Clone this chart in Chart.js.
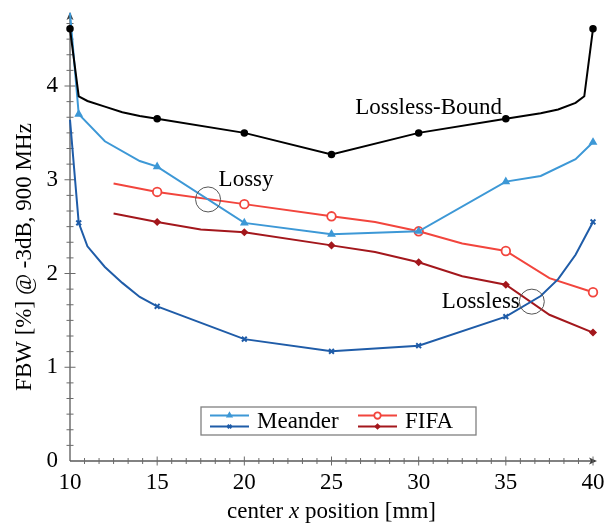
<!DOCTYPE html>
<html>
<head>
<meta charset="utf-8">
<script src="https://cdn.jsdelivr.net/npm/chart.js@4/dist/chart.umd.min.js"></script>
<style>
  html, body { margin: 0; padding: 0; background: #fff; }
  canvas { display: block; }
</style>
</head>
<body>
<canvas id="chart" width="613" height="525" style="width:613px;height:525px"></canvas>
<script>
// ---- data (center x position in mm, FBW in %) ----
const boundX = [10, 10.5, 11, 12, 13, 14, 15, 20, 25, 30, 35, 36, 37, 38, 39, 39.5, 40];
const boundY = [4.61, 3.89, 3.84, 3.78, 3.72, 3.68, 3.65, 3.50, 3.27, 3.50, 3.65, 3.68, 3.71, 3.75, 3.82, 3.89, 4.61];

const meanderLossyX = [10, 10.5, 12, 14, 15, 20, 25, 30, 35, 37, 39, 40];
const meanderLossyY = [4.78, 3.70, 3.41, 3.20, 3.14, 2.54, 2.42, 2.45, 2.98, 3.04, 3.22, 3.40];

const meanderLosslessX = [10, 10.5, 11, 12, 13, 14, 15, 20, 25, 30, 35, 37, 38, 39, 40];
const meanderLosslessY = [3.64, 2.54, 2.29, 2.07, 1.90, 1.75, 1.65, 1.30, 1.17, 1.23, 1.54, 1.76, 1.94, 2.20, 2.55];

const fifaLossyX = [12.5, 15, 20, 25, 27.5, 30, 32.5, 35, 37.5, 40];
const fifaLossyY = [2.96, 2.87, 2.74, 2.61, 2.55, 2.45, 2.32, 2.24, 1.95, 1.80];

const fifaLosslessX = [12.5, 15, 17.5, 20, 25, 27.5, 30, 32.5, 35, 37.5, 40];
const fifaLosslessY = [2.64, 2.55, 2.47, 2.44, 2.30, 2.23, 2.12, 1.97, 1.88, 1.56, 1.37];

// marker positions (x values carrying a marker)
const meanderMarkX = [10.5, 15, 20, 25, 30, 35, 40];
const stdMarkX = [10, 15, 20, 25, 30, 35, 40];

// axis ticks
const xTicks = [10, 15, 20, 25, 30, 35, 40];
const yTicks = [0, 1, 2, 3, 4];
const xLabel = ['center ', 'x', ' position [mm]'];
const yLabel = 'FBW [%] @ -3dB, 900 MHz';
const legendNames = ['Meander', 'FIFA'];

const X_MIN = 10, X_MAX = 40, Y_MIN = 0, Y_MAX = 4.8;
const FONT = '"Liberation Serif", "Times New Roman", serif';

const COLORS = {
  bound: '#000000',
  meanderLossy: '#3d98d6',
  meanderLossless: '#1f5ca8',
  fifaLossy: '#f2453d',
  fifaLossless: '#a3171c'
};

function pts(xs, ys) { return xs.map((x, i) => ({ x: x, y: ys[i] })); }
function radii(xs, marks, r) { return xs.map(x => marks.includes(x) ? r : 0); }

function series(label, xs, ys, color, style, r, marks, extra) {
  return Object.assign({
    label: label,
    data: pts(xs, ys),
    borderColor: color,
    backgroundColor: color,
    pointBorderColor: color,
    pointBackgroundColor: color,
    borderWidth: 2,
    pointStyle: style,
    pointRadius: radii(xs, marks, r),
    pointHoverRadius: 0,
    pointBorderWidth: 1.5,
    tension: 0,
    clip: false
  }, extra || {});
}

const datasets = [
  series('Lossless-Bound', boundX, boundY, COLORS.bound, 'circle', 3, stdMarkX),
  series('Meander lossy', meanderLossyX, meanderLossyY, COLORS.meanderLossy, 'triangle', 3.6, meanderMarkX),
  series('Meander lossless', meanderLosslessX, meanderLosslessY, COLORS.meanderLossless, 'crossRot', 3.4, meanderMarkX, { pointBorderWidth: 2 }),
  series('FIFA lossy', fifaLossyX, fifaLossyY, COLORS.fifaLossy, 'circle', 4.3, stdMarkX, { pointBackgroundColor: '#ffffff', pointBorderWidth: 1.8 }),
  series('FIFA lossless', fifaLosslessX, fifaLosslessY, COLORS.fifaLossless, 'rectRot', 3, stdMarkX)
];

// text notes and circled crossings, in data coordinates
const notes = [
  { text: 'Lossless-Bound', x: 30.57, y: 3.77, align: 'center' },
  { text: 'Lossy', x: 20.1, y: 3.0, align: 'center' },
  { text: 'Lossless', x: 35.8, y: 1.70, align: 'right' }
];
const rings = [
  { x: 17.92, y: 2.79, r: 12.5 },
  { x: 36.49, y: 1.70, r: 12.5 }
];

function drawMarker(ctx, ds, x, y) {
  const opts = {
    pointStyle: ds.pointStyle,
    radius: ds.pointRadius.find(r => r > 0) || 3,
    rotation: 0,
    borderWidth: ds.pointBorderWidth
  };
  ctx.save();
  ctx.fillStyle = ds.pointBackgroundColor;
  ctx.strokeStyle = ds.pointBorderColor;
  ctx.lineWidth = ds.pointBorderWidth;
  Chart.helpers.drawPoint(ctx, opts, x, y);
  ctx.restore();
}

// pgfplots-style axis lines with arrow heads, major and minor ticks
const arrowAxes = {
  id: 'arrowAxes',
  beforeDatasetsDraw(chart) {
    const { ctx, scales: { x, y } } = chart;
    const ox = x.getPixelForValue(X_MIN), oy = y.getPixelForValue(Y_MIN);
    const xEnd = x.getPixelForValue(X_MAX) + 4;
    const yEnd = y.getPixelForValue(Y_MAX) + 1;
    ctx.save();
    ctx.strokeStyle = '#5a5a5a';
    ctx.fillStyle = '#3a3a3a';
    ctx.lineWidth = 1.3;
    ctx.beginPath();
    ctx.moveTo(ox, oy); ctx.lineTo(xEnd - 2, oy);
    ctx.moveTo(ox, oy); ctx.lineTo(ox, yEnd + 2);
    ctx.stroke();
    // arrow heads
    ctx.beginPath();
    ctx.moveTo(xEnd, oy); ctx.lineTo(xEnd - 8, oy - 3.5); ctx.lineTo(xEnd - 6, oy); ctx.lineTo(xEnd - 8, oy + 3.5); ctx.closePath();
    ctx.fill();
    ctx.beginPath();
    ctx.moveTo(ox, yEnd); ctx.lineTo(ox - 3.5, yEnd + 8); ctx.lineTo(ox, yEnd + 6); ctx.lineTo(ox + 3.5, yEnd + 8); ctx.closePath();
    ctx.fill();

    ctx.lineWidth = 1;
    ctx.strokeStyle = '#6a6a6a';
    const tick = (px, py, len, horiz) => {
      ctx.beginPath();
      if (horiz) { ctx.moveTo(px - len, py); ctx.lineTo(px + len, py); }
      else { ctx.moveTo(px, py - len); ctx.lineTo(px, py + len); }
      ctx.stroke();
    };
    const xStep = xTicks[1] - xTicks[0];
    xTicks.forEach((v, i) => {
      if (i > 0) tick(x.getPixelForValue(v), oy, 4.5, false);
      if (i < xTicks.length - 1) {
        for (let k = 1; k < 6; k++) tick(x.getPixelForValue(v + k * xStep / 6), oy, 3, false);
      }
    });
    const yStep = yTicks[1] - yTicks[0];
    yTicks.forEach((v, i) => {
      if (i > 0) tick(ox, y.getPixelForValue(v), 5.5, true);
      for (let k = 1; k < 6; k++) {
        const mv = v + k * yStep / 6;
        if (mv < Y_MAX - 0.1) tick(ox, y.getPixelForValue(mv), 3.5, true);
      }
    });
    ctx.restore();
  },
  afterDatasetsDraw(chart) {
    const { ctx, scales: { x, y } } = chart;
    ctx.save();
    // circled crossings
    ctx.strokeStyle = '#555555';
    ctx.lineWidth = 1;
    rings.forEach(c => {
      ctx.beginPath();
      ctx.arc(x.getPixelForValue(c.x), y.getPixelForValue(c.y), c.r, 0, Math.PI * 2);
      ctx.stroke();
    });
    // labels
    ctx.fillStyle = '#000';
    ctx.font = '23px ' + FONT;
    ctx.textBaseline = 'middle';
    notes.forEach(n => {
      ctx.textAlign = n.align;
      ctx.fillText(n.text, x.getPixelForValue(n.x), y.getPixelForValue(n.y));
    });
    ctx.restore();
  },
  afterDraw(chart) {
    const { ctx, scales: { x } } = chart;
    ctx.save();
    ctx.fillStyle = '#000';
    ctx.textBaseline = 'middle';
    // x axis title with italic variable
    const normal = '23px ' + FONT, italic = 'italic 23px ' + FONT;
    const fonts = [normal, italic, normal];
    const widths = xLabel.map((t, i) => { ctx.font = fonts[i]; return ctx.measureText(t).width; });
    const total = widths.reduce((a, b) => a + b, 0);
    let cx = (x.getPixelForValue(X_MIN) + x.getPixelForValue(X_MAX)) / 2 - total / 2;
    ctx.textAlign = 'left';
    xLabel.forEach((t, i) => { ctx.font = fonts[i]; ctx.fillText(t, cx, 512); cx += widths[i]; });
    // y axis title
    ctx.translate(25, 257);
    ctx.rotate(-Math.PI / 2);
    ctx.font = normal;
    ctx.textAlign = 'center';
    ctx.fillText(yLabel, 0, 0);
    ctx.restore();

    // legend: two stacked samples per family
    const box = { l: 201, t: 407, r: 476, b: 435 };
    ctx.save();
    ctx.fillStyle = '#fff';
    ctx.fillRect(box.l, box.t, box.r - box.l, box.b - box.t);
    ctx.strokeStyle = '#808080';
    ctx.lineWidth = 1.3;
    ctx.strokeRect(box.l, box.t, box.r - box.l, box.b - box.t);
    const ds = chart.data.datasets;
    const groups = [
      { name: legendNames[0], sets: [ds[1], ds[2]], x0: 210, x1: 249, tx: 257 },
      { name: legendNames[1], sets: [ds[3], ds[4]], x0: 358, x1: 397, tx: 405 }
    ];
    const rowsY = [415.5, 426.5];
    groups.forEach(g => {
      g.sets.forEach((s, i) => {
        ctx.strokeStyle = s.borderColor;
        ctx.lineWidth = 2;
        ctx.beginPath();
        ctx.moveTo(g.x0, rowsY[i]); ctx.lineTo(g.x1, rowsY[i]);
        ctx.stroke();
        drawMarker(ctx, Object.assign({}, s, { pointRadius: s.pointRadius.map(r => r * 0.75) }), (g.x0 + g.x1) / 2, rowsY[i]);
      });
      ctx.fillStyle = '#000';
      ctx.font = '23px ' + FONT;
      ctx.textAlign = 'left';
      ctx.textBaseline = 'middle';
      ctx.fillText(g.name, g.tx, 422);
    });
    ctx.restore();
  }
};

new Chart(document.getElementById('chart'), {
  type: 'line',
  data: { datasets: datasets },
  plugins: [arrowAxes],
  options: {
    responsive: false,
    animation: false,
    devicePixelRatio: 1,
    layout: { padding: { left: 0, right: 20, top: 11, bottom: 0 } },
    plugins: { legend: { display: false }, tooltip: { enabled: false } },
    scales: {
      x: {
        type: 'linear',
        min: X_MIN, max: X_MAX,
        afterFit(s) { s.height = 64; s.paddingLeft = 0; s.paddingRight = 0; },
        afterBuildTicks(s) { s.ticks = xTicks.map(v => ({ value: v })); },
        grid: { display: false, drawTicks: false },
        border: { display: false },
        ticks: { color: '#000', font: { family: FONT, size: 23 }, padding: 8, maxRotation: 0 }
      },
      y: {
        type: 'linear',
        min: Y_MIN, max: Y_MAX,
        afterFit(s) { s.width = 70; s.paddingTop = 0; s.paddingBottom = 0; },
        afterBuildTicks(s) { s.ticks = yTicks.map(v => ({ value: v })); },
        grid: { display: false, drawTicks: false },
        border: { display: false },
        ticks: { color: '#000', font: { family: FONT, size: 23 }, padding: 12 }
      }
    }
  }
});
</script>
</body>
</html>
